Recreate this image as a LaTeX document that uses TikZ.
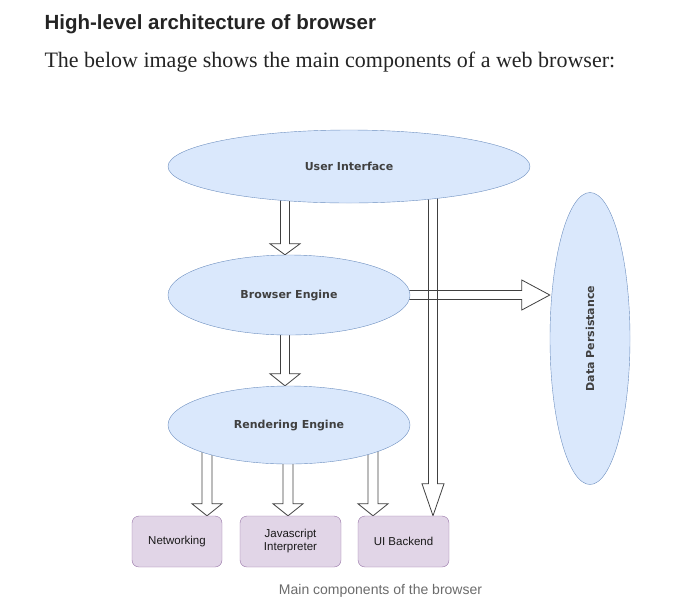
\documentclass[tikz,border=0pt]{standalone}
\usepackage{fontspec}
\setmainfont{Liberation Serif}
\setsansfont{Liberation Sans}
\newfontfamily\diagfont{DejaVu Sans}
\usetikzlibrary{positioning,calc,shapes.geometric,backgrounds}
\definecolor{EllFill}{HTML}{DAE8FC}
\definecolor{EllLine}{HTML}{6C8EBF}
\definecolor{BoxFill}{HTML}{E1D5E7}
\definecolor{BoxLine}{HTML}{9673A6}
\definecolor{Ink}{HTML}{242424}
\definecolor{Caption}{HTML}{6B6B6B}
\definecolor{PartText}{HTML}{404040}

\tikzset{
  part/.style={ellipse,draw=EllLine,fill=EllFill,inner sep=0pt,font=\diagfont\bfseries\fontsize{11}{13}\selectfont,text=PartText},
  unit/.style={draw=BoxLine,fill=BoxFill,rounded corners=7pt,align=center,inner sep=2pt,
    font=\sffamily\fontsize{11.5}{13}\selectfont,text=black!90},
  % block arrow: #1 head length, #2 head half width, #3 shaft half width
  fat arrow/.style n args={3}{draw=black!75,line width=.8pt,line join=miter,to path={
    ($(\tikztostart)!#3!90:(\tikztotarget)$) -- ($(\tikztotarget)!#1!(\tikztostart)!#3!90:(\tikztotarget)$)
    -- ($(\tikztotarget)!#1!(\tikztostart)!#2!90:(\tikztotarget)$) -- (\tikztotarget)
    -- ($(\tikztotarget)!#1!(\tikztostart)!#2!-90:(\tikztotarget)$)
    -- ($(\tikztotarget)!#1!(\tikztostart)!#3!-90:(\tikztotarget)$)
    -- ($(\tikztostart)!#3!-90:(\tikztotarget)$) -- cycle}}
}

\begin{document}
\begin{tikzpicture}[x=1pt,y=-1pt]
    \useasboundingbox (0,0) rectangle (679,614);
    \node[anchor=base west,font=\sffamily\bfseries\fontsize{20.5}{24}\selectfont,text=Ink] (title) at (41,29) {High-level architecture of browser};
    \node[anchor=base west,font=\fontsize{22}{26}\selectfont,text=Ink] (intro) at (41,67.7) {The below image shows the main components of a web browser:};

    \node[part,minimum width=362pt,minimum height=73pt] (ui) at (349,166.5) {User Interface};
    \node[part,minimum width=242pt,minimum height=80pt] (be) at (289,295) {Browser Engine};
    \node[part,minimum width=242pt,minimum height=78pt] (re) at (289,425) {Rendering Engine};
    \node[part,minimum width=80pt,minimum height=292pt] (dp) at (590,338.5) {};
    \node[rotate=90,font=\diagfont\bfseries\fontsize{11}{13}\selectfont,text=PartText] (dplabel) at (dp.center) {Data Persistance};

    \foreach \name/\x/\w/\label in {net/177/90/Networking,js/290.5/101/{Javascript\\Interpreter},uib/403.5/91/UI Backend}{
      \node[unit,minimum width=\w pt,minimum height=51pt] (\name) at (\x,541.5) {\label};
    }

    \node[font=\sffamily\fontsize{14}{16}\selectfont,text=Caption,anchor=base] (caption) at (380.5,594) {Main components of the browser};

    \begin{scope}[on background layer]
      \draw[fat arrow={11pt}{15pt}{4.5pt}] ([xshift=-4pt]be.north |- ui.center) to ([xshift=-4pt]be.north);
      \draw[fat arrow={12pt}{15pt}{4.5pt}] ([xshift=-4pt]be.center) to ([xshift=-4pt]re.north);
      \draw[fat arrow={28pt}{15pt}{4.5pt}] (be.center) to (be.center -| dp.west);
      \draw[fat arrow={32pt}{11pt}{4.5pt}] ([xshift=29.5pt]uib.north |- ui.center) to ([xshift=29.5pt]uib.north);
      \foreach \name/\dx in {net/30,js/-2.5,uib/-30.5}{
        \draw[fat arrow={12pt}{15pt}{5pt}] ([xshift=\dx pt]\name.north |- re.center) to ([xshift=\dx pt]\name.north);
      }
    \end{scope}
  \end{tikzpicture}
\end{document}
